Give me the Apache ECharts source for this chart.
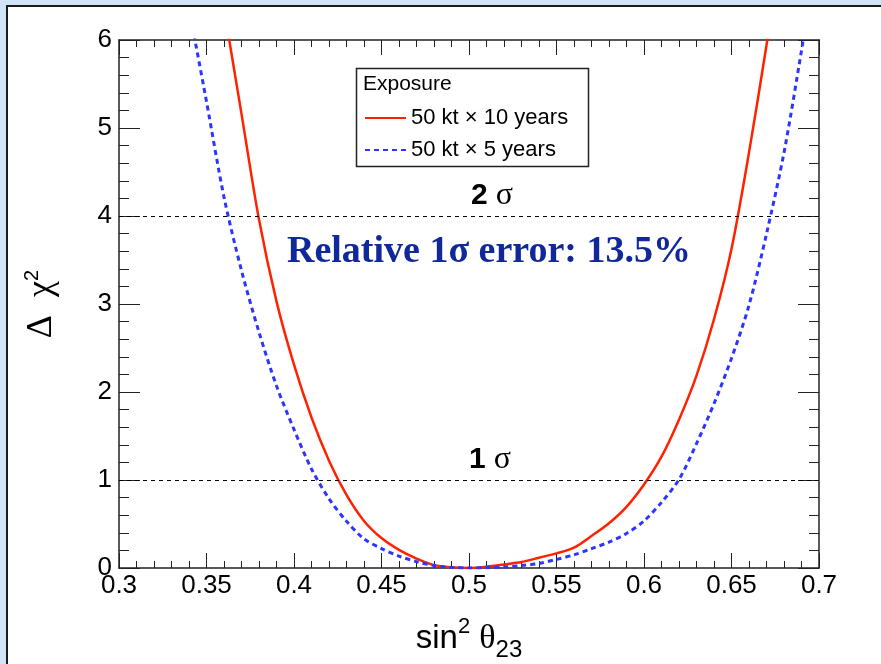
<!DOCTYPE html>
<html>
<head>
<meta charset="utf-8">
<script src="https://cdn.jsdelivr.net/npm/echarts@6/dist/echarts.min.js"></script>
<style>
html,body{margin:0;padding:0;background:#cfe5f7;}
#chart{width:881px;height:664px;}
</style>
</head>
<body>
<div id="chart"></div>
<script>
// sin^2(theta23) sample points
const xGrid = [0.34,0.35,0.36,0.37,0.38,0.39,0.40,0.41,0.42,0.43,0.44,0.45,0.46,0.47,0.48,0.49,0.50,
               0.51,0.52,0.53,0.54,0.55,0.56,0.57,0.58,0.59,0.60,0.61,0.62,0.63,0.64,0.65,0.66,0.67,0.68,0.69,0.70];
// Delta chi^2, 50 kt x 10 years (red, solid)
const chi2TenYears = [null,null,6.36,5.16,3.96,3.03,2.31,1.71,1.22,0.83,0.535,0.34,0.206,0.107,0.033,0.008,0,
                      0.015,0.04,0.068,0.117,0.166,0.231,0.364,0.509,0.695,0.949,1.265,1.686,2.187,2.827,3.625,4.72,5.94,7.2,null,null];
// Delta chi^2, 50 kt x 5 years (blue, dashed)
const chi2FiveYears = [6.36,5.30,4.215,3.38,2.68,2.07,1.575,1.125,0.788,0.531,0.331,0.221,0.135,0.072,0.028,0.007,0,
                       0.003,0.012,0.028,0.051,0.098,0.149,0.220,0.294,0.393,0.534,0.746,1.006,1.413,1.868,2.383,2.986,3.797,4.72,5.88,7.1];
const seriesNames = ['50 kt \u00d7 10 years', '50 kt \u00d7 5 years'];
const sigmaLevels = [4, 1];
const xTicks = {min: 0.3, max: 0.7, interval: 0.05};
const yTicks = {min: 0, max: 6, interval: 1};

function pairs(ys){
  const out = [];
  xGrid.forEach((x,i)=>{ if(ys[i] !== null) out.push([x, ys[i]]); });
  return out;
}

const SANS = '"Liberation Sans", Arial, Helvetica, sans-serif';
const SERIF = '"Liberation Serif", "Times New Roman", serif';
const axisColor = '#222';

function xAxisDef(pos, labels){
  return {
    type:'value', position:pos, min:xTicks.min, max:xTicks.max, interval:xTicks.interval,
    axisLine:{show:true, onZero:false, lineStyle:{color:axisColor, width:1.5}},
    axisTick:{show:true, inside:true, length:15, lineStyle:{color:axisColor, width:1}},
    minorTick:{show:true, splitNumber:5, length:7, lineStyle:{color:axisColor, width:1}},
    splitLine:{show:false},
    axisLabel:{show:labels, color:'#000', fontFamily:SANS, fontSize:26, margin:5},
    name: labels ? '{a|sin}{sup|2}{a| }{g|\u03b8}{sub|23}' : '',
    nameLocation:'middle', nameGap:48,
    nameTextStyle:{
      color:'#000',
      rich:{
        a:{fontFamily:SANS, fontSize:33, lineHeight:46, verticalAlign:'middle', color:'#000'},
        g:{fontFamily:SERIF, fontSize:34, lineHeight:46, verticalAlign:'middle', color:'#000'},
        sup:{fontFamily:SANS, fontSize:22, lineHeight:22, verticalAlign:'top', color:'#000'},
        sub:{fontFamily:SANS, fontSize:24, lineHeight:24, verticalAlign:'bottom', color:'#000'}
      }
    }
  };
}
function yAxisDef(pos, labels){
  return {
    type:'value', position:pos, min:yTicks.min, max:yTicks.max, interval:yTicks.interval,
    axisLine:{show:true, onZero:false, lineStyle:{color:axisColor, width:1.5}},
    axisTick:{show:true, inside:true, length:21, lineStyle:{color:axisColor, width:1}},
    minorTick:{show:true, splitNumber:5, length:10, lineStyle:{color:axisColor, width:1}},
    splitLine:{show:false},
    axisLabel:{show:labels, color:'#000', fontFamily:SANS, fontSize:26, margin:7},
    name: labels ? '{g|\u0394  \u03c7}{sup|2}' : '',
    nameLocation:'middle', nameGap:57,
    nameTextStyle:{
      color:'#000',
      rich:{
        g:{fontFamily:SERIF, fontSize:36, lineHeight:40, verticalAlign:'middle', color:'#000'},
        sup:{fontFamily:SANS, fontSize:20, lineHeight:20, verticalAlign:'top', color:'#000'}
      }
    }
  };
}

const chart = echarts.init(document.getElementById('chart'), null, {renderer:'canvas'});
chart.setOption({
  backgroundColor:'#cfe5f7',
  animation:false,
  grid:{left:119, right:62, top:40, bottom:96, containLabel:false, outerBoundsMode:'none'},
  xAxis:[xAxisDef('bottom', true), xAxisDef('top', false)],
  yAxis:[yAxisDef('left', true), yAxisDef('right', false)],
  legend:{
    data:seriesNames, orient:'vertical', left:364, top:106,
    itemWidth:41, itemHeight:14, itemGap:8, padding:0,
    itemStyle:{opacity:0},
    textStyle:{fontFamily:SANS, fontSize:22, lineHeight:24, color:'#000'},
    selectedMode:false
  },
  series:[
    {
      type:'line', name:seriesNames[0], data:pairs(chi2TenYears),
      xAxisIndex:0, yAxisIndex:0, symbol:'none', showSymbol:false, clip:true, z:3, smooth:0.3,
      lineStyle:{color:'#ff2200', width:2.5}, itemStyle:{color:'#ff2200'},
      markLine:{
        silent:true, symbol:['none','none'], label:{show:false},
        lineStyle:{color:'#000', width:1, type:[4,4]},
        data: sigmaLevels.map(v=>({yAxis:v}))
      }
    },
    {
      type:'line', name:seriesNames[1], data:pairs(chi2FiveYears),
      xAxisIndex:0, yAxisIndex:0, symbol:'none', showSymbol:false, clip:true, z:3, smooth:0.3,
      lineStyle:{color:'#2b35ff', width:3, type:[5,4]}, itemStyle:{color:'#2b35ff'}
    }
  ],
  graphic:[
    {type:'rect', z:-10, shape:{x:7, y:6, width:900, height:700},
     style:{fill:'#ffffff', stroke:'#1a1a1a', lineWidth:2}},
    {type:'rect', z:10, shape:{x:356.5, y:68.5, width:232, height:98},
     style:{fill:'none', stroke:'#222', lineWidth:1.5}},
    {type:'text', z:10, x:363, y:84,
     style:{text:'Exposure', fontFamily:SANS, fontSize:21, fill:'#000', verticalAlign:'middle', align:'left'}},
    {type:'text', z:10, x:492, y:196,
     style:{text:'{b|2}{s| \u03c3}', align:'center', verticalAlign:'middle',
       rich:{b:{fontFamily:SANS, fontWeight:'bold', fontSize:30, fill:'#000'},
             s:{fontFamily:SERIF, fontSize:32, fill:'#000'}}}},
    {type:'text', z:10, x:489, y:252,
     style:{text:'Relative 1\u03c3 error: 13.5%', fontFamily:SERIF, fontWeight:'bold', fontSize:38,
       fill:'#10289a', align:'center', verticalAlign:'middle'}},
    {type:'text', z:10, x:490, y:460,
     style:{text:'{b|1}{s| \u03c3}', align:'center', verticalAlign:'middle',
       rich:{b:{fontFamily:SANS, fontWeight:'bold', fontSize:30, fill:'#000'},
             s:{fontFamily:SERIF, fontSize:32, fill:'#000'}}}}
  ]
});
</script>
</body>
</html>
